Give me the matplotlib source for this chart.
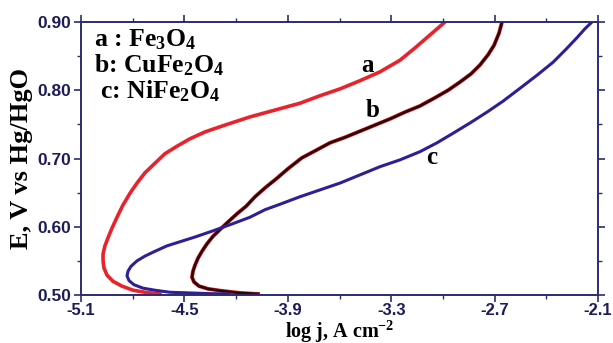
import matplotlib
matplotlib.use("Agg")
import matplotlib.pyplot as plt
import numpy as np
from matplotlib.ticker import FixedLocator, FormatStrFormatter

# Tafel-type curves: log j (A cm^-2) vs E (V vs Hg/HgO)
a_logj = [-4.642, -4.729, -4.798, -4.862, -4.914, -4.949, -4.967, -4.972, -4.972,
          -4.961, -4.943, -4.920, -4.891, -4.856, -4.816, -4.775, -4.729, -4.671,
          -4.613, -4.543, -4.467, -4.380, -4.264, -4.119, -3.974, -3.829, -3.713,
          -3.597, -3.481, -3.365, -3.249, -3.162, -3.075, -2.988]
a_E = [0.5015, 0.504, 0.507, 0.513, 0.520, 0.529, 0.540, 0.550, 0.560,
       0.572, 0.584, 0.598, 0.614, 0.632, 0.649, 0.664, 0.679, 0.693,
       0.707, 0.718, 0.729, 0.739, 0.749, 0.761, 0.771, 0.781, 0.792,
       0.802, 0.814, 0.827, 0.844, 0.862, 0.881, 0.900]

b_logj = [-4.073, -4.177, -4.282, -4.363, -4.415, -4.444, -4.456, -4.450, -4.438,
          -4.421, -4.398, -4.369, -4.334, -4.293, -4.247, -4.195, -4.142, -4.090,
          -4.032, -3.968, -3.899, -3.818, -3.736, -3.655, -3.568, -3.481, -3.394,
          -3.307, -3.220, -3.133, -3.046, -2.970, -2.901, -2.837, -2.785, -2.738,
          -2.703, -2.674, -2.657]
b_E = [0.5015, 0.503, 0.506, 0.509, 0.513, 0.519, 0.526, 0.535, 0.544,
       0.554, 0.564, 0.575, 0.586, 0.596, 0.607, 0.619, 0.630, 0.644,
       0.657, 0.670, 0.685, 0.701, 0.712, 0.723, 0.731, 0.740, 0.749,
       0.758, 0.768, 0.777, 0.789, 0.800, 0.812, 0.824, 0.837, 0.852,
       0.866, 0.884, 0.900]

c_logj = [-4.241, -4.351, -4.467, -4.584, -4.671, -4.740, -4.792, -4.821, -4.833,
          -4.827, -4.810, -4.775, -4.729, -4.671, -4.601, -4.526, -4.438, -4.334,
          -4.235, -4.119, -4.032, -3.945, -3.829, -3.713, -3.597, -3.481, -3.365,
          -3.249, -3.133, -3.034, -2.941, -2.843, -2.744, -2.651, -2.552, -2.454,
          -2.361, -2.286, -2.222, -2.176, -2.135]
c_E = [0.5015, 0.502, 0.503, 0.504, 0.507, 0.510, 0.515, 0.521, 0.528,
       0.535, 0.542, 0.550, 0.557, 0.564, 0.572, 0.578, 0.585, 0.594,
       0.603, 0.614, 0.625, 0.633, 0.644, 0.654, 0.664, 0.676, 0.688,
       0.698, 0.710, 0.723, 0.737, 0.752, 0.768, 0.784, 0.803, 0.822,
       0.841, 0.860, 0.877, 0.890, 0.900]

x_major = [-5.1, -4.5, -3.9, -3.3, -2.7, -2.1]
x_minor = [-4.8, -4.2, -3.6, -3.0, -2.4]
y_major = [0.50, 0.60, 0.70, 0.80, 0.90]
y_minor = [0.55, 0.65, 0.75, 0.85]

legend_lines = [r"a : Fe$_{3}$O$_{4}$", r"b: CuFe$_{2}$O$_{4}$", r" c: NiFe$_{2}$O$_{4}$"]
curve_labels = [("a", -3.44, 0.836), ("b", -3.41, 0.770), ("c", -3.063, 0.702)]

plt.rcParams["mathtext.fontset"] = "custom"
plt.rcParams["mathtext.rm"] = "Liberation Serif:bold"
plt.rcParams["mathtext.bf"] = "Liberation Serif:bold"
plt.rcParams["mathtext.it"] = "Liberation Serif:bold"

NAVY = "#2b2b72"
TICK_TXT = "#1c1c5a"

fig = plt.figure(figsize=(6.13, 3.43), dpi=100)
ax = fig.add_axes([81 / 613, 48 / 343, 517 / 613, 273 / 343])

ax.plot(a_logj, a_E, color="#e8232b", lw=2.6)
ax.plot(b_logj, b_E, color="#e8232b", lw=2.8)
ax.plot(b_logj, b_E, color="#2a0608", lw=1.9)
ax.plot(c_logj, c_E, color="#2e1f96", lw=2.2)

ax.set_xlim(-5.1, -2.1)
ax.set_ylim(0.5, 0.9)
ax.xaxis.set_major_locator(FixedLocator(x_major))
ax.xaxis.set_minor_locator(FixedLocator(x_minor))
ax.yaxis.set_major_locator(FixedLocator(y_major))
ax.yaxis.set_minor_locator(FixedLocator(y_minor))
ax.xaxis.set_major_formatter(FormatStrFormatter("%.1f"))
ax.yaxis.set_major_formatter(FormatStrFormatter("%.2f"))

for s in ax.spines.values():
    s.set_color(NAVY)
    s.set_linewidth(1.4)
ax.tick_params(which="both", direction="out", color=NAVY, top=True, right=True,
               labeltop=False, labelright=False)
ax.tick_params(which="major", length=5, width=1.2)
ax.tick_params(which="minor", length=3, width=1.0)
for lab in ax.get_xticklabels() + ax.get_yticklabels():
    lab.set_fontfamily("Liberation Sans")
    lab.set_fontweight("bold")
    lab.set_fontsize(12.5)
    lab.set_color(TICK_TXT)
for lab in ax.get_xticklabels():
    lab.set_fontsize(12)
ax.tick_params(axis="x", pad=1)
ax.tick_params(axis="y", pad=2)

ax.set_xlabel(r"log j, A cm$^{-2}$", fontfamily="Liberation Serif", fontweight="bold",
              fontsize=14.5, labelpad=0)
ax.set_ylabel("E, V vs Hg/HgO", fontfamily="Liberation Serif", fontweight="bold",
              fontsize=19, labelpad=3)

for i, txt in enumerate(legend_lines):
    ax.text(-5.025, 0.874 - i * 0.038, txt, fontfamily="Liberation Serif", fontweight="bold",
            fontsize=18.5, va="center", ha="left")

for lbl, x, y in curve_labels:
    ax.text(x, y, lbl, fontfamily="Liberation Serif", fontweight="bold", fontsize=18,
            ha="center", va="center")

fig.savefig("out.png", dpi=100)
